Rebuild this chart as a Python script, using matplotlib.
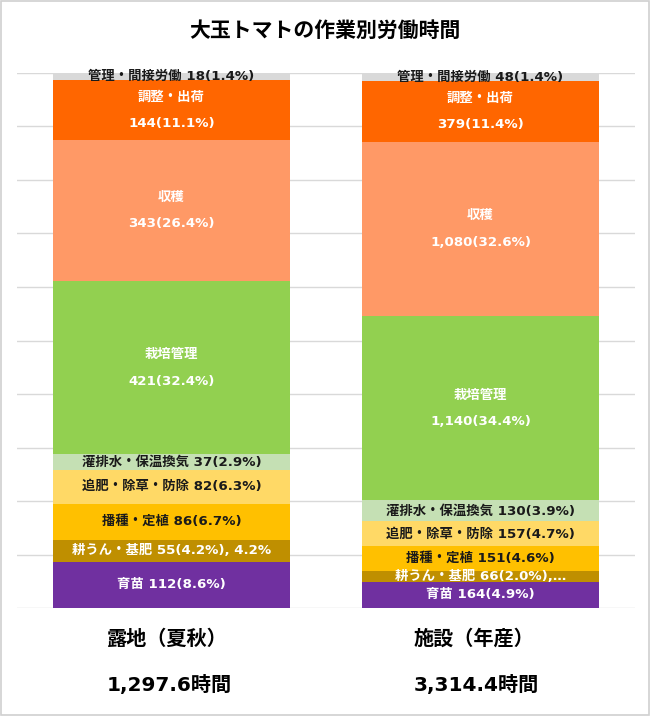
import matplotlib
matplotlib.use("Agg")
import matplotlib.pyplot as plt
from matplotlib.patches import Rectangle

plt.rcParams['font.family'] = ['DejaVu Sans', 'Noto Sans CJK JP']

title = "大玉トマトの作業別労働時間"
categories = ["露地（夏秋）", "施設（年産）"]
totals = ["1,297.6時間", "3,314.4時間"]
tasks = ["育苗", "耕うん・基肥", "播種・定植", "追肥・除草・防除", "灌排水・保温換気",
         "栽培管理", "収穫", "調整・出荷", "管理・間接労働"]
roji_hours = [112, 55, 86, 82, 37, 421, 343, 144, 18]
roji_pct = [8.6, 4.2, 6.7, 6.3, 2.9, 32.4, 26.4, 11.1, 1.4]
shisetsu_hours = [164, 66, 151, 157, 130, 1140, 1080, 379, 48]
shisetsu_pct = [4.9, 2.0, 4.6, 4.7, 3.9, 34.4, 32.6, 11.4, 1.4]
roji_labels = ["育苗 112(8.6%)", "耕うん・基肥 55(4.2%), 4.2%", "播種・定植 86(6.7%)",
               "追肥・除草・防除 82(6.3%)", "灌排水・保温換気 37(2.9%)",
               "栽培管理\n421(32.4%)", "収穫\n343(26.4%)", "調整・出荷\n144(11.1%)",
               "管理・間接労働 18(1.4%)"]
shisetsu_labels = ["育苗 164(4.9%)", "耕うん・基肥 66(2.0%),…", "播種・定植 151(4.6%)",
                   "追肥・除草・防除 157(4.7%)", "灌排水・保温換気 130(3.9%)",
                   "栽培管理\n1,140(34.4%)", "収穫\n1,080(32.6%)", "調整・出荷\n379(11.4%)",
                   "管理・間接労働 48(1.4%)"]

colors = ["#7030A0", "#BF8F00", "#FFC000", "#FFD966", "#C5E0B4",
          "#92D050", "#FF9966", "#FF6600", "#D9D9D9"]
text_colors = ["white", "white", "#1a1a1a", "#1a1a1a", "#1a1a1a",
               "white", "white", "white", "#1a1a1a"]

fig = plt.figure(figsize=(6.5, 7.16), dpi=100)
fig.patches.append(Rectangle((0.002, 0.002), 0.996, 0.996, transform=fig.transFigure,
                             fill=False, edgecolor="#D0D0D0", linewidth=1.2))

ax = fig.add_axes([17/650, 1-608/716, 618/650, (608-73)/716])
ax.set_xlim(-0.5, 1.5)
ax.set_ylim(0, 100)
for s in ax.spines.values():
    s.set_visible(False)
ax.set_xticks([])
ax.set_yticks(range(0, 101, 10))
ax.tick_params(axis='y', length=0, labelleft=False)
ax.grid(axis='y', color="#D9D9D9", linewidth=1)
ax.set_axisbelow(True)

width = 0.767
for xi, (pcts, labels) in enumerate([(roji_pct, roji_labels), (shisetsu_pct, shisetsu_labels)]):
    bottom = 0
    for k, p in enumerate(pcts):
        ax.bar(xi, p, width=width, bottom=bottom, color=colors[k], linewidth=0)
        lab = labels[k]
        ax.text(xi, bottom + p/2, lab, ha='center', va='center', fontsize=9.6,
                fontweight='bold', color=text_colors[k], linespacing=2.35)
        bottom += p

fig.text(0.5, 1-31/716, title, ha='center', va='center', fontsize=15, fontweight='bold')
label_x = [107/650, 414/650]
for i in range(2):
    fig.text(label_x[i], 1-639/716, categories[i], ha='left', va='center',
             fontsize=14.5, fontweight='bold')
    fig.text(label_x[i], 1-685/716, totals[i], ha='left', va='center',
             fontsize=14.5, fontweight='bold')

fig.savefig("out.png", dpi=100)
